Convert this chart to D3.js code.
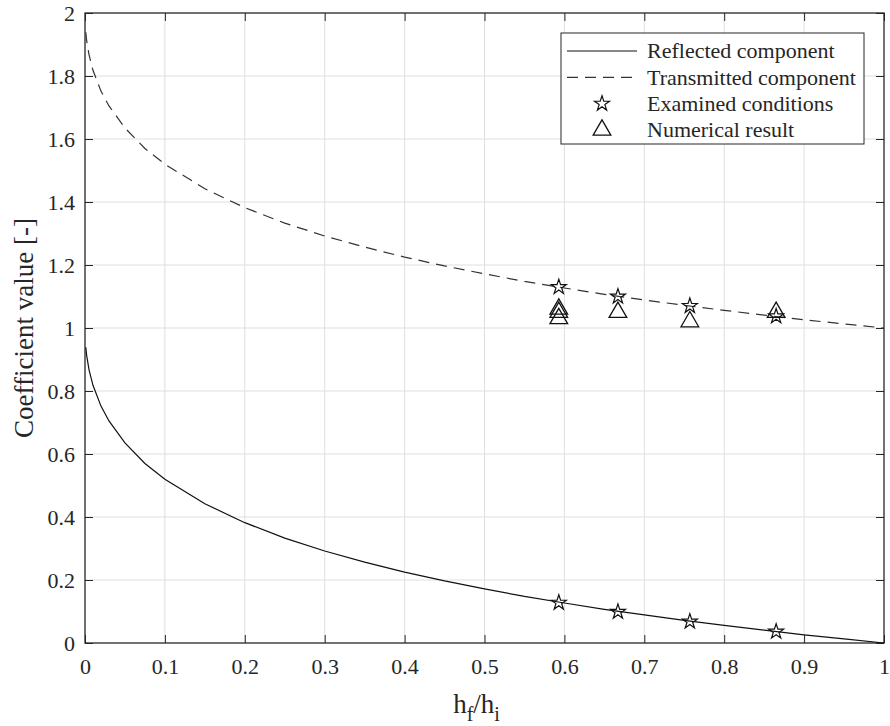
<!DOCTYPE html>
<meta charset="utf-8">
<style>
body { margin: 0; background: #fff; }
svg text { font-family: "Liberation Serif", "Times New Roman", serif !important; fill: #262626; }
</style>
<body>
<svg width="890" height="726" font-family="Liberation Serif"></svg>
</body>
<script src="https://d3js.org/d3.v7.min.js"></script>
<script>

// curve samples (h_f/h_i -> coefficient)
var ratio = [0.001, 0.002, 0.005, 0.01, 0.02, 0.03, 0.05, 0.075, 0.1, 0.15, 0.2, 0.25, 0.3,
             0.35, 0.4, 0.45, 0.5, 0.55, 0.6, 0.65, 0.7, 0.75, 0.8, 0.85, 0.9, 0.95, 1.0];
var reflected = [0.939, 0.914, 0.868, 0.818, 0.752, 0.705, 0.635, 0.570, 0.520, 0.442, 0.382, 0.333, 0.292,
                 0.257, 0.225, 0.197, 0.172, 0.148, 0.127, 0.107, 0.089, 0.072, 0.056, 0.041, 0.026, 0.013, 0.000];
var transmitted = [1.939, 1.914, 1.868, 1.818, 1.752, 1.705, 1.635, 1.570, 1.520, 1.442, 1.382, 1.333, 1.292,
                   1.257, 1.225, 1.197, 1.172, 1.148, 1.127, 1.107, 1.089, 1.072, 1.056, 1.041, 1.026, 1.013, 1.000];

// examined conditions (stars)
var condX = [0.593, 0.667, 0.757, 0.865];
var condReflected = [0.128, 0.099, 0.068, 0.036];
var condTransmitted = [1.130, 1.100, 1.070, 1.037];

// numerical results (triangles)
var numX = [0.593, 0.593, 0.593, 0.667, 0.757, 0.865];
var numY = [1.06, 1.05, 1.03, 1.05, 1.02, 1.05];

var xTicks = [0, 0.1, 0.2, 0.3, 0.4, 0.5, 0.6, 0.7, 0.8, 0.9, 1];
var yTicks = [0, 0.2, 0.4, 0.6, 0.8, 1, 1.2, 1.4, 1.6, 1.8, 2];

var legendLabels = ["Reflected component", "Transmitted component", "Examined conditions", "Numerical result"];

var serif = "Liberation Serif";

var svg = d3.select("svg"),
    margin = {top: 13, right: 6, bottom: 83, left: 85},
    width = 890 - margin.left - margin.right,
    height = 726 - margin.top - margin.bottom,
    g = svg.append("g").attr("transform", "translate(" + margin.left + "," + margin.top + ")");

var x = d3.scaleLinear().domain([0, 1]).range([0, width]);
var y = d3.scaleLinear().domain([0, 2]).range([height, 0]);

var axisColor = "#262626", gridColor = "#dfdfdf";

// grid
g.append("g").selectAll("line")
  .data(xTicks.slice(1, -1))
  .enter().append("line")
    .attr("x1", x).attr("x2", x)
    .attr("y1", 0).attr("y2", height)
    .attr("stroke", gridColor);
g.append("g").selectAll("line")
  .data(yTicks.slice(1, -1))
  .enter().append("line")
    .attr("x1", 0).attr("x2", width)
    .attr("y1", y).attr("y2", y)
    .attr("stroke", gridColor);

// axes, ticks pointing inward on all four sides
function styleAxis(sel) {
  sel.attr("font-family", serif).attr("font-size", 22);
  sel.select(".domain").remove();
  sel.selectAll(".tick line").attr("stroke", axisColor);
  sel.selectAll(".tick text").attr("fill", axisColor);
}
var fmt = d3.format("~g");

g.append("g")
  .attr("transform", "translate(0," + height + ")")
  .call(d3.axisBottom(x).tickValues(xTicks).tickFormat(fmt).tickSizeInner(-8).tickSizeOuter(0).tickPadding(15))
  .call(styleAxis);
g.append("g")
  .call(d3.axisTop(x).tickValues(xTicks).tickFormat("").tickSizeInner(-8).tickSizeOuter(0))
  .call(styleAxis);
g.append("g")
  .call(d3.axisLeft(y).tickValues(yTicks).tickFormat(fmt).tickSizeInner(-8).tickSizeOuter(0).tickPadding(10))
  .call(styleAxis);
g.append("g")
  .attr("transform", "translate(" + width + ",0)")
  .call(d3.axisRight(y).tickValues(yTicks).tickFormat("").tickSizeInner(-8).tickSizeOuter(0))
  .call(styleAxis);

g.append("rect")
  .attr("width", width).attr("height", height)
  .attr("fill", "none").attr("stroke", axisColor).attr("stroke-width", 1.3);

// curves
var line = d3.line()
  .x(function(d) { return x(d[0]); })
  .y(function(d) { return y(d[1]); });

g.append("path")
  .datum(d3.zip(ratio, reflected))
  .attr("d", line)
  .attr("fill", "none").attr("stroke", "#111").attr("stroke-width", 1.2);

g.append("path")
  .datum(d3.zip(ratio, transmitted))
  .attr("d", line)
  .attr("fill", "none").attr("stroke", "#333").attr("stroke-width", 1.2)
  .attr("stroke-dasharray", "11,7");

// markers
var star = d3.symbol().type(d3.symbolStar).size(70);
var tri = d3.symbol().type(d3.symbolTriangle).size(135);

g.append("g").selectAll("path")
  .data(d3.zip(condX, condReflected).concat(d3.zip(condX, condTransmitted)))
  .enter().append("path")
    .attr("d", star)
    .attr("transform", function(d) { return "translate(" + x(d[0]) + "," + y(d[1]) + ")"; })
    .attr("fill", "none").attr("stroke", "#111").attr("stroke-width", 1.2);

g.append("g").selectAll("path")
  .data(d3.zip(numX, numY))
  .enter().append("path")
    .attr("d", tri)
    .attr("transform", function(d) { return "translate(" + x(d[0]) + "," + y(d[1]) + ")"; })
    .attr("fill", "none").attr("stroke", "#111").attr("stroke-width", 1.3);

// legend
var legend = svg.append("g").attr("transform", "translate(561,33)");
legend.append("rect")
  .attr("width", 303).attr("height", 111)
  .attr("fill", "#fff").attr("stroke", axisColor).attr("stroke-width", 1);

var ly = d3.scalePoint().domain(d3.range(legendLabels.length)).range([18, 97]);

legend.append("line")
  .attr("x1", 6).attr("x2", 76).attr("y1", ly(0)).attr("y2", ly(0))
  .attr("stroke", "#111").attr("stroke-width", 1.2);
legend.append("line")
  .attr("x1", 6).attr("x2", 76).attr("y1", ly(1)).attr("y2", ly(1))
  .attr("stroke", "#333").attr("stroke-width", 1.2).attr("stroke-dasharray", "11,7");
legend.append("path")
  .attr("d", star)
  .attr("transform", "translate(41," + ly(2) + ")")
  .attr("fill", "none").attr("stroke", "#111").attr("stroke-width", 1.2);
legend.append("path")
  .attr("d", tri)
  .attr("transform", "translate(41," + ly(3) + ")")
  .attr("fill", "none").attr("stroke", "#111").attr("stroke-width", 1.3);

legend.selectAll("text.lab")
  .data(legendLabels)
  .enter().append("text")
    .attr("class", "lab")
    .attr("x", 86)
    .attr("y", function(d, i) { return ly(i); })
    .attr("dy", "0.33em")
    .attr("font-family", serif)
    .attr("font-size", 22)
    .text(function(d) { return d; });

// axis labels
var xl = svg.append("text")
  .attr("x", margin.left + width / 2 - 8)
  .attr("y", 713)
  .attr("text-anchor", "middle")
  .attr("font-family", serif)
  .attr("font-size", 27);
xl.append("tspan").text("h");
xl.append("tspan").attr("dy", 8).attr("font-size", 20).text("f");
xl.append("tspan").attr("dy", -8).text("/h");
xl.append("tspan").attr("dy", 8).attr("font-size", 20).text("i");

svg.append("text")
  .attr("transform", "translate(33," + (margin.top + height / 2) + ") rotate(-90)")
  .attr("text-anchor", "middle")
  .attr("font-family", serif)
  .attr("font-size", 27)
  .text("Coefficient value [-]");

</script>
